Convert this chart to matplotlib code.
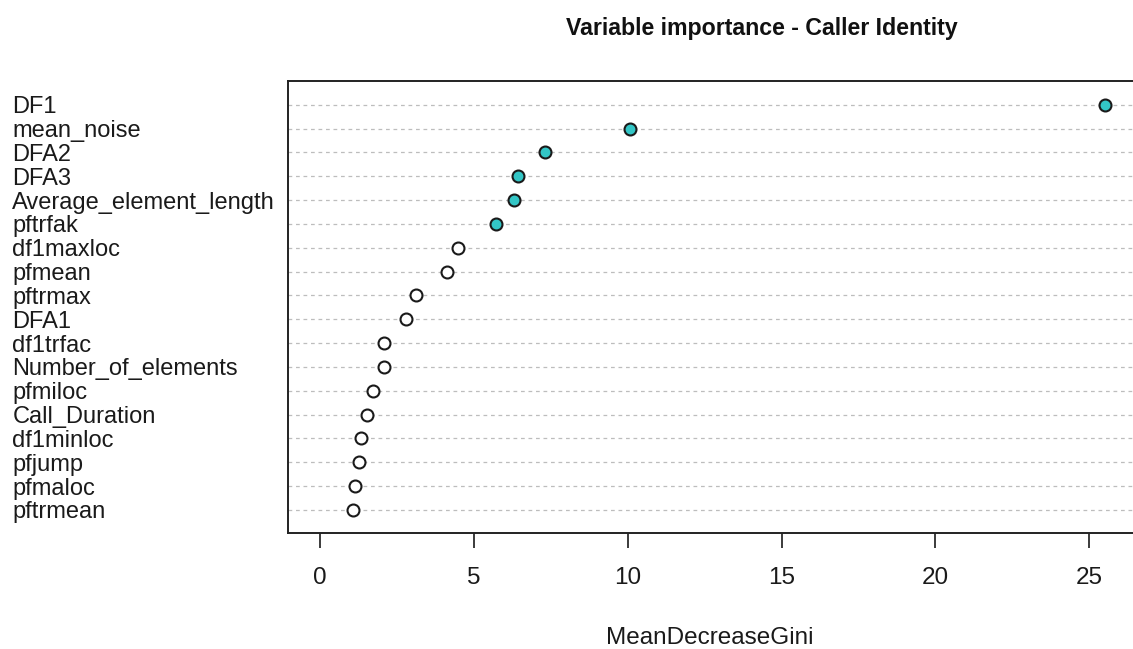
import numpy as np
import matplotlib.pyplot as plt

plt.rcParams['font.family'] = ['Liberation Sans', 'DejaVu Sans']

variables = ["DF1", "mean_noise", "DFA2", "DFA3", "Average_element_length",
             "pftrfak", "df1maxloc", "pfmean", "pftrmax", "DFA1", "df1trfac",
             "Number_of_elements", "pfmiloc", "Call_Duration", "df1minloc",
             "pfjump", "pfmaloc", "pftrmean"]
gini = [25.5, 10.06, 7.32, 6.44, 6.30, 5.71, 4.48, 4.12, 3.12, 2.79, 2.08,
        2.08, 1.72, 1.53, 1.33, 1.28, 1.14, 1.07]
highlight = [True] * 6 + [False] * 12

n = len(variables)
ypos = np.arange(n, 0, -1)

fig = plt.figure(figsize=(11.33, 6.49), dpi=100)
ax = fig.add_axes([288/1133, 1 - 533/649, (1136 - 288)/1133, (533 - 81)/649])

# dotted guide lines like R's dotchart
for y in ypos:
    ax.axhline(y, color='#bdbdbd', lw=0.9, ls=(0, (3, 3)), zorder=1)

for x, y, h in zip(gini, ypos, highlight):
    fc = '#33c6c6' if h else 'white'
    ax.plot(x, y, 'o', ms=8.6, mfc=fc, mec='#1a1a1a', mew=1.5, zorder=3)

ax.set_xlim(-1.04, 26.52)
ax.set_ylim(0.03, 19.0)
ax.set_xticks([0, 5, 10, 15, 20, 25])
ax.tick_params(axis='x', length=10.5, width=1.2, pad=14, labelsize=17.5, colors='#1a1a1a')
ax.set_yticks(ypos)
ax.set_yticklabels(variables)
ax.tick_params(axis='y', length=0, pad=198.5, labelsize=17)
for lab in ax.get_yticklabels():
    lab.set_horizontalalignment('left')
    lab.set_color('#1a1a1a')

for s in ax.spines.values():
    s.set_linewidth(1.4)
    s.set_color('#222222')

fig.text(762/1133, 1 - 28/649, "Variable importance - Caller Identity",
         ha='center', va='center', fontsize=16.7, fontweight='bold', color='#111111')
fig.text(710/1133, 1 - 638/649, "MeanDecreaseGini",
         ha='center', va='center', fontsize=17.5, color='#1a1a1a')

fig.savefig("out.png", dpi=100)
